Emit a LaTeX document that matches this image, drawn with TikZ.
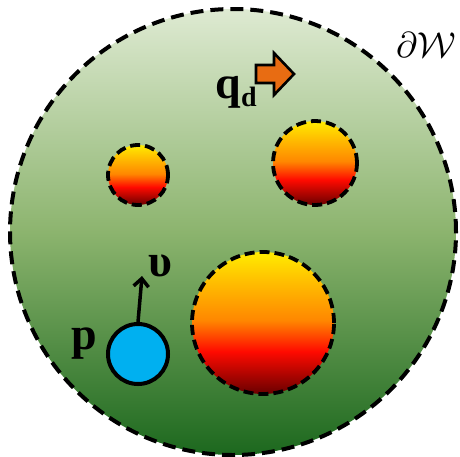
\documentclass[tikz,border=0pt]{standalone}
\usepackage{fontspec}
\setmainfont{Liberation Serif}
\usetikzlibrary{positioning,arrows.meta,calc}

\definecolor{fieldlo}{RGB}{28,104,30}
\definecolor{fieldmid}{RGB}{140,180,110}
\definecolor{fieldhi}{RGB}{222,234,210}
\definecolor{hotlo}{RGB}{105,0,0}
\definecolor{hotred}{RGB}{255,10,0}
\definecolor{hotorange}{RGB}{255,135,0}
\definecolor{hotamber}{RGB}{255,192,0}
\definecolor{hotyellow}{RGB}{255,236,0}
\definecolor{agentblue}{RGB}{0,176,240}
\definecolor{goalorange}{RGB}{232,108,18}

\pgfdeclareverticalshading{field}{100bp}{color(0bp)=(fieldlo); color(25bp)=(fieldlo); color(50bp)=(fieldmid); color(75bp)=(fieldhi); color(100bp)=(fieldhi)}
\pgfdeclareverticalshading{hot}{100bp}{color(0bp)=(hotlo); color(25bp)=(hotlo); color(40bp)=(hotred); color(51bp)=(hotorange); color(65bp)=(hotamber); color(75bp)=(hotyellow); color(100bp)=(hotyellow)}

\tikzset{
  region/.style={circle, draw=black, line width=4pt, dash pattern=on 13pt off 7pt,
    shading=field, minimum size=446pt, inner sep=0pt},
  obstacle/.style={circle, draw=black, line width=3.8pt, dash pattern=on 10pt off 5pt,
    shading=hot, inner sep=0pt},
  agent/.style={circle, draw=black, line width=4pt, fill=agentblue, minimum size=60pt, inner sep=0pt},
  lab/.style={font=\bfseries\fontsize{46}{46}\selectfont, inner sep=0pt},
  velocity/.style={line width=3.5pt, -{Straight Barb[length=8pt,width=15pt,line width=3.5pt]}}
}

\begin{document}
\begin{tikzpicture}[x=1pt, y=-1pt]
  \useasboundingbox (0,0) rectangle (460,456);

  \node[region] (ws) at (233,232) {};

  \node[obstacle, minimum size=60pt] (obsA) at (138,175) {};
  \node[obstacle, minimum size=84pt] (obsB) at (315,163) {};
  \node[obstacle, minimum size=142pt] (obsC) at (263,323) {};

  \node[agent] (rob) at (138,354) {};
  \node[lab] (plab) at (84,344) {p};
  \coordinate (vtip) at (142,276);
  \draw[velocity] (rob.north) -- (vtip);
  \node[lab] (vlab) at (160,266) {υ};

  % goal direction
  \node[lab] (qlab) at (236,92) {q\raisebox{-8pt}{\fontsize{28}{28}\selectfont d}};
  \draw[line width=2.6pt, fill=goalorange, line join=miter]
    (256,65) -- (274,65) -- (274,53) -- (294,74) -- (274,95) -- (274,83) -- (256,83) -- cycle;

  \node[inner sep=0pt] (blab) at (426,45) {\scalebox{3.6}{$\partial\mathcal{W}$}};
\end{tikzpicture}
\end{document}
